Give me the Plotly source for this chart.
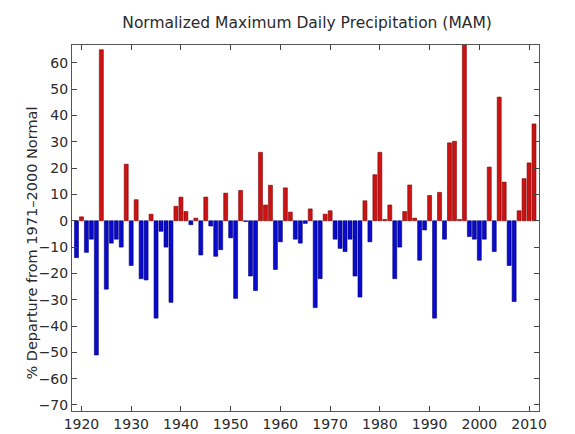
import plotly.graph_objects as go

years = list(range(1919, 2012))
values = [
    -14, 1.5, -12, -7, -51, 65, -26, -8.5, -7, -10,          # 1919-1928
    21.5, -17, 8, -22, -22.5, 2.5, -37, -4, -10, -31,        # 1929-1938
    5.5, 9, 3.5, -1.5, 1, -13, 9, -2, -13.5, -11,            # 1939-1948
    10.5, -6.5, -29.5, 11.5, -0.3, -21, -26.5, 26, 6, 13.5,  # 1949-1958
    -18.5, -8, 12.5, 3.3, -7, -8.5, -1, 4.5, -33, -22,       # 1959-1968
    2.5, 3.8, -7, -10.5, -11.7, -7, -21, -29, 7.6, -8,       # 1969-1978
    17.5, 26, 0.5, 6, -22, -10, 3.5, 13.6, 1, -15,           # 1979-1988
    -3.5, 9.6, -37, 10.8, -7, 29.6, 30.2, 0.5, 78, -6,       # 1989-1998
    -7, -15, -7, 20.4, -11.7, 47, 14.7, -17, -30.7, 3.8,     # 1999-2008
    16, 22, 36.8,                                            # 2009-2011
]
x_ticks = [1920, 1930, 1940, 1950, 1960, 1970, 1980, 1990, 2000, 2010]
y_ticks = [60, 50, 40, 30, 20, 10, 0, -10, -20, -30, -40, -50, -60, -70]

RED = "#cc1212"
RED_EDGE = "#800000"
BLUE = "#0a0acc"
BLUE_EDGE = "#000078"

colors = [RED if v > 0 else BLUE for v in values]
edges = [RED_EDGE if v > 0 else BLUE_EDGE for v in values]

fig = go.Figure(go.Bar(
    x=years, y=values, width=0.8,
    marker=dict(color=colors, line=dict(color=edges, width=0.6)),
))

font = "DejaVu Sans, sans-serif"
fig.update_layout(
    width=575, height=434,
    margin=dict(l=72, r=36, t=45, b=23, autoexpand=False),
    paper_bgcolor="white", plot_bgcolor="white",
    showlegend=False,
    font=dict(family=font, size=14, color="#2a2a2a"),
    title=dict(text="Normalized Maximum Daily Precipitation (MAM)",
               x=0.534, xanchor="center", y=0.947, yanchor="middle",
               font=dict(size=15.5, color="#2a2a2a")),
    annotations=[dict(
        text="% Departure from 1971\u20132000 Normal",
        xref="paper", yref="paper", x=-0.0857, y=0.46,
        xanchor="center", yanchor="middle", textangle=-90,
        showarrow=False, font=dict(size=14.5, color="#2a2a2a"),
    )],
)
fig.update_xaxes(
    range=[1918.1, 2012.0], tickvals=x_ticks, ticks="inside", ticklen=5,
    showline=True, linecolor="#555", linewidth=1, mirror="ticks",
    showgrid=False, zeroline=False, tickfont=dict(size=14), automargin=False,
)
fig.update_yaxes(
    range=[-72.3, 66.8], tickvals=y_ticks, ticks="inside", ticklen=5,
    showline=True, linecolor="#555", linewidth=1, mirror="ticks",
    showgrid=False, zeroline=False, tickfont=dict(size=14), automargin=False,
)

fig.write_html("out.html", config={"displayModeBar": False},
               post_script="document.body.style.margin='0';")
